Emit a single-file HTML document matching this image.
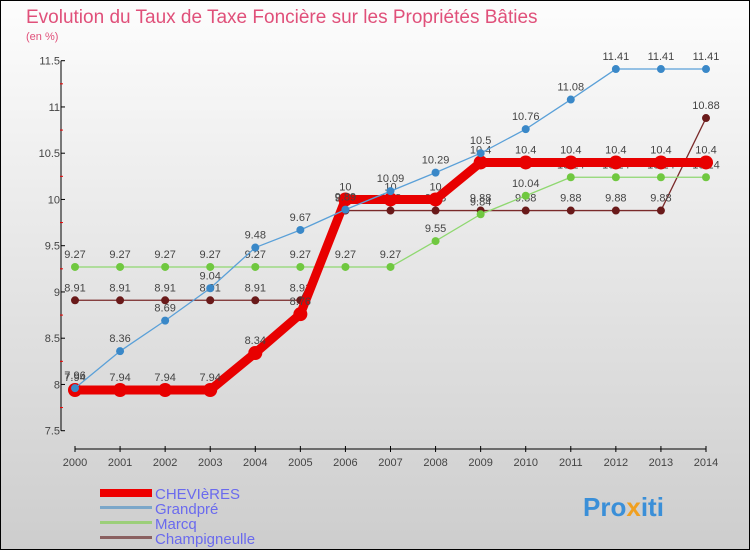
<!DOCTYPE html>
<html><head><meta charset="utf-8"><style>
body{margin:0;width:750px;height:550px;overflow:hidden;font-family:"Liberation Sans",sans-serif}
svg text{font-family:"Liberation Sans",sans-serif}
</style></head><body>
<svg width="750" height="550">
<defs><linearGradient id="bg" x1="0" y1="0" x2="0" y2="1"><stop offset="0" stop-color="#fdfdfd"/><stop offset="1" stop-color="#cdcdcd"/></linearGradient></defs>
<rect x="0.5" y="0.5" width="749" height="549" fill="url(#bg)" stroke="#000"/>
<text x="26" y="23" font-size="19" fill="#e0507a">Evolution du Taux de Taxe Foncière sur les Propriétés Bâties</text>
<text x="26" y="40" font-size="11" fill="#e0507a">(en %)</text>
<g id="axes"></g>
<g id="series"></g>
<g>
<rect x="100" y="489" width="52" height="8" fill="#e00"/>
<text x="155" y="499" font-size="15" fill="#6a6aee">CHEVIèRES</text>
<rect x="100" y="506" width="52" height="3" fill="#7ba7c9"/>
<text x="155" y="514" font-size="15" fill="#6a6aee">Grandpré</text>
<rect x="100" y="521" width="52" height="3" fill="#9ccf7a"/>
<text x="155" y="529" font-size="15" fill="#6a6aee">Marcq</text>
<rect x="100" y="536" width="52" height="3" fill="#8a6060"/>
<text x="155" y="544" font-size="15" fill="#6a6aee">Champigneulle</text>
</g>
<text x="583" y="516" font-size="26" font-weight="bold" fill="#3a8fd8">Pro<tspan fill="#f0a020">x</tspan>iti</text>
</svg>
<script>
const years=[2000,2001,2002,2003,2004,2005,2006,2007,2008,2009,2010,2011,2012,2013,2014];
const yTicks=[7.5,8,8.5,9,9.5,10,10.5,11,11.5];
const chevieres=[7.94,7.94,7.94,7.94,8.34,8.76,10,10,10,10.4,10.4,10.4,10.4,10.4,10.4];
const grandpre=[7.96,8.36,8.69,9.04,9.48,9.67,9.89,10.09,10.29,10.5,10.76,11.08,11.41,11.41,11.41];
const marcq=[9.27,9.27,9.27,9.27,9.27,9.27,9.27,9.27,9.55,9.84,10.04,10.24,10.24,10.24,10.24];
const champigneulle=[8.91,8.91,8.91,8.91,8.91,8.91,9.88,9.88,9.88,9.88,9.88,9.88,9.88,9.88,10.88];
const NS='http://www.w3.org/2000/svg';
const X=i=>75+i*(631/(years.length-1));
const Y=v=>430.7-(v-7.5)*92.5;
function mk(tag,attrs,parent){const e=document.createElementNS(NS,tag);for(const k in attrs)e.setAttribute(k,attrs[k]);parent.appendChild(e);return e;}
const ax=document.getElementById('axes');
let l=mk('line',{x1:61,y1:Y(11.5),x2:61,y2:Y(7.5),stroke:'#000','stroke-width':1},ax);


yTicks.forEach(v=>{
 mk('line',{x1:61,x2:65,y1:Y(v),y2:Y(v),stroke:'#000'},ax);
 const mid=Y(v+0.25);
 if(v<11.5)mk('line',{x1:60,x2:63,y1:mid,y2:mid,stroke:'#e00'},ax);
 const t=mk('text',{x:60,y:Y(v)+4,'font-size':11,'text-anchor':'end',fill:'#444'},ax);t.textContent=String(v);
 
 
});
l=mk('line',{x1:X(0),y1:449,x2:X(years.length-1),y2:449,stroke:'#000'},ax);


years.forEach((y,i)=>{
 mk('line',{x1:X(i),x2:X(i),y1:446,y2:452,stroke:'#000'},ax);
 const t=mk('text',{x:X(i),y:466,'font-size':11,'text-anchor':'middle',fill:'#444'},ax);t.textContent=y;
 
 
});
const sg=document.getElementById('series');
function series(name,vals,color,lw,r,dot){
 const g=mk('g',{},sg);
 
 
 const p=mk('polyline',{points:vals.map((v,i)=>X(i)+','+Y(v)).join(' '),fill:'none',stroke:color,'stroke-width':lw,'stroke-linejoin':'round'},g);
 
 
 vals.forEach((v,i)=>{
  const c=mk('circle',{cx:X(i),cy:Y(v),r:r,fill:dot},g);
  
  
  const t=mk('text',{x:X(i),y:Y(v)-9,'font-size':11,'text-anchor':'middle',fill:'#444'},g);t.textContent=String(v);
  
  
 });
}
series('champigneulle',champigneulle,'#7a2a2a',1.3,4,'#6a1a1a');
series('marcq',marcq,'#8fd870',1.3,4,'#70c840');
series('chevieres',chevieres,'#e80000',9,7,'#e80000');
series('grandpre',grandpre,'#5aa0d8',1.3,4,'#3a88c8');
</script>
</body></html>
